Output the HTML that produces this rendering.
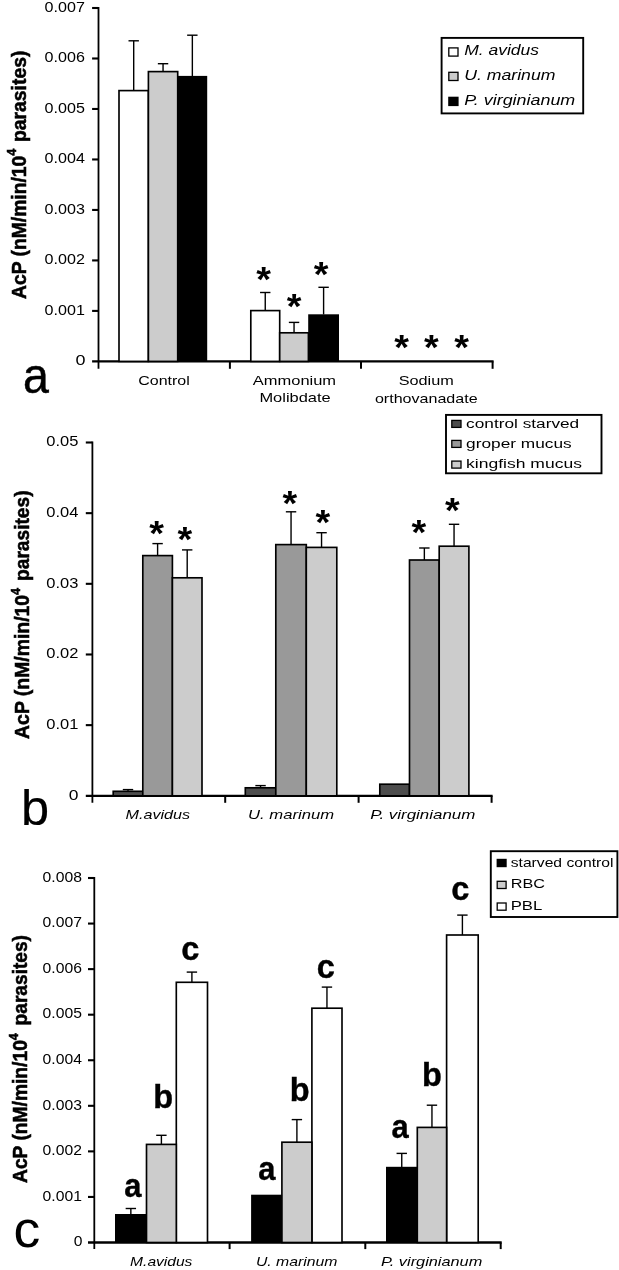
<!DOCTYPE html>
<html><head><meta charset="utf-8"><title>AcP activity</title>
<style>
html,body{margin:0;padding:0;background:#fff;}
svg{display:block;will-change:transform;filter:grayscale(1) blur(0.4px);}
text{font-family:"Liberation Sans",sans-serif;fill:#000;}
</style></head>
<body>
<svg width="619" height="1270" viewBox="0 0 619 1270">
<rect x="0" y="0" width="619" height="1270" fill="#fff"/>
<line x1="98.50" y1="7.00" x2="98.50" y2="368.80" stroke="#000" stroke-width="1.8"/>
<line x1="92.10" y1="361.40" x2="493.60" y2="361.40" stroke="#000" stroke-width="2.3"/>
<line x1="92.10" y1="310.91" x2="98.50" y2="310.91" stroke="#000" stroke-width="2.1"/>
<line x1="92.10" y1="260.43" x2="98.50" y2="260.43" stroke="#000" stroke-width="2.1"/>
<line x1="92.10" y1="209.94" x2="98.50" y2="209.94" stroke="#000" stroke-width="2.1"/>
<line x1="92.10" y1="159.46" x2="98.50" y2="159.46" stroke="#000" stroke-width="2.1"/>
<line x1="92.10" y1="108.97" x2="98.50" y2="108.97" stroke="#000" stroke-width="2.1"/>
<line x1="92.10" y1="58.49" x2="98.50" y2="58.49" stroke="#000" stroke-width="2.1"/>
<line x1="92.10" y1="8.00" x2="98.50" y2="8.00" stroke="#000" stroke-width="2.1"/>
<line x1="229.90" y1="361.40" x2="229.90" y2="368.80" stroke="#000" stroke-width="2.0"/>
<line x1="361.00" y1="361.40" x2="361.00" y2="368.80" stroke="#000" stroke-width="2.0"/>
<line x1="492.60" y1="361.40" x2="492.60" y2="368.80" stroke="#000" stroke-width="2.0"/>
<text x="75.50" y="365.20" font-size="13.9" text-anchor="start" font-weight="normal" font-style="normal" textLength="10.00" lengthAdjust="spacingAndGlyphs">0</text>
<text x="44.60" y="314.71" font-size="13.9" text-anchor="start" font-weight="normal" font-style="normal" textLength="40.30" lengthAdjust="spacingAndGlyphs">0.001</text>
<text x="44.60" y="264.23" font-size="13.9" text-anchor="start" font-weight="normal" font-style="normal" textLength="40.30" lengthAdjust="spacingAndGlyphs">0.002</text>
<text x="44.60" y="213.74" font-size="13.9" text-anchor="start" font-weight="normal" font-style="normal" textLength="40.30" lengthAdjust="spacingAndGlyphs">0.003</text>
<text x="44.60" y="163.26" font-size="13.9" text-anchor="start" font-weight="normal" font-style="normal" textLength="40.30" lengthAdjust="spacingAndGlyphs">0.004</text>
<text x="44.60" y="112.77" font-size="13.9" text-anchor="start" font-weight="normal" font-style="normal" textLength="40.30" lengthAdjust="spacingAndGlyphs">0.005</text>
<text x="44.60" y="62.29" font-size="13.9" text-anchor="start" font-weight="normal" font-style="normal" textLength="40.30" lengthAdjust="spacingAndGlyphs">0.006</text>
<text x="44.60" y="11.80" font-size="13.9" text-anchor="start" font-weight="normal" font-style="normal" textLength="40.30" lengthAdjust="spacingAndGlyphs">0.007</text>
<g transform="translate(25.60,299.00) rotate(-90)" font-weight="bold" font-size="21" stroke="#000" stroke-width="0.55"><text x="0" y="0" textLength="150.30" lengthAdjust="spacingAndGlyphs">AcP (nM/min/10<tspan font-size="13.65" dy="-9.24">4</tspan></text><text x="157.00" y="0" textLength="91.40" lengthAdjust="spacingAndGlyphs">parasites)</text></g>
<line x1="133.70" y1="90.60" x2="133.70" y2="40.80" stroke="#000" stroke-width="1.4"/>
<line x1="128.50" y1="40.80" x2="138.90" y2="40.80" stroke="#000" stroke-width="1.4"/>
<line x1="163.05" y1="71.60" x2="163.05" y2="63.70" stroke="#000" stroke-width="1.4"/>
<line x1="157.85" y1="63.70" x2="168.25" y2="63.70" stroke="#000" stroke-width="1.4"/>
<line x1="192.35" y1="76.10" x2="192.35" y2="35.20" stroke="#000" stroke-width="1.4"/>
<line x1="187.15" y1="35.20" x2="197.55" y2="35.20" stroke="#000" stroke-width="1.4"/>
<rect x="119.00" y="90.60" width="29.40" height="270.80" fill="#fff" stroke="#000" stroke-width="1.65"/>
<rect x="148.40" y="71.60" width="29.30" height="289.80" fill="#ccc" stroke="#000" stroke-width="1.65"/>
<rect x="177.50" y="75.90" width="29.70" height="285.70" fill="#000"/>
<line x1="265.25" y1="310.60" x2="265.25" y2="292.50" stroke="#000" stroke-width="1.4"/>
<line x1="260.05" y1="292.50" x2="270.45" y2="292.50" stroke="#000" stroke-width="1.4"/>
<line x1="294.05" y1="332.80" x2="294.05" y2="322.40" stroke="#000" stroke-width="1.4"/>
<line x1="288.85" y1="322.40" x2="299.25" y2="322.40" stroke="#000" stroke-width="1.4"/>
<line x1="323.60" y1="314.50" x2="323.60" y2="287.30" stroke="#000" stroke-width="1.4"/>
<line x1="318.40" y1="287.30" x2="328.80" y2="287.30" stroke="#000" stroke-width="1.4"/>
<rect x="250.80" y="310.60" width="28.90" height="50.80" fill="#fff" stroke="#000" stroke-width="1.65"/>
<rect x="279.70" y="332.80" width="28.70" height="28.60" fill="#ccc" stroke="#000" stroke-width="1.65"/>
<rect x="308.20" y="314.30" width="30.80" height="47.30" fill="#000"/>
<text transform="translate(263.50,275.50) scale(1.08,1)" x="0" y="15.89" font-size="35" font-weight="bold" text-anchor="middle">*</text>
<text transform="translate(294.00,302.20) scale(1.08,1)" x="0" y="15.89" font-size="35" font-weight="bold" text-anchor="middle">*</text>
<text transform="translate(321.20,269.80) scale(1.08,1)" x="0" y="15.89" font-size="35" font-weight="bold" text-anchor="middle">*</text>
<text transform="translate(401.70,343.30) scale(1.08,1)" x="0" y="15.89" font-size="35" font-weight="bold" text-anchor="middle">*</text>
<text transform="translate(431.40,343.30) scale(1.08,1)" x="0" y="15.89" font-size="35" font-weight="bold" text-anchor="middle">*</text>
<text transform="translate(461.70,343.30) scale(1.08,1)" x="0" y="15.89" font-size="35" font-weight="bold" text-anchor="middle">*</text>
<text x="138.20" y="385.40" font-size="13.6" text-anchor="start" font-weight="normal" font-style="normal" textLength="51.60" lengthAdjust="spacingAndGlyphs">Control</text>
<text x="252.80" y="385.40" font-size="13.6" text-anchor="start" font-weight="normal" font-style="normal" textLength="83.30" lengthAdjust="spacingAndGlyphs">Ammonium</text>
<text x="259.40" y="402.20" font-size="13.6" text-anchor="start" font-weight="normal" font-style="normal" textLength="71.30" lengthAdjust="spacingAndGlyphs">Molibdate</text>
<text x="398.70" y="385.40" font-size="13.6" text-anchor="start" font-weight="normal" font-style="normal" textLength="55.10" lengthAdjust="spacingAndGlyphs">Sodium</text>
<text x="374.90" y="403.00" font-size="13.6" text-anchor="start" font-weight="normal" font-style="normal" textLength="102.70" lengthAdjust="spacingAndGlyphs">orthovanadate</text>
<text transform="translate(22.90,393.40) scale(0.93,1)" x="0" y="0" font-size="50" stroke="#000" stroke-width="0.5">a</text>
<rect x="441.60" y="37.90" width="141.60" height="75.50" fill="none" stroke="#000" stroke-width="1.9"/>
<rect x="448.80" y="47.90" width="9.20" height="8.20" fill="#fff" stroke="#000" stroke-width="1.3"/>
<text x="464.20" y="55.30" font-size="14.3" text-anchor="start" font-weight="normal" font-style="italic" textLength="74.90" lengthAdjust="spacingAndGlyphs">M. avidus</text>
<rect x="448.80" y="72.30" width="9.20" height="8.20" fill="#ccc" stroke="#000" stroke-width="1.3"/>
<text x="464.20" y="79.90" font-size="14.3" text-anchor="start" font-weight="normal" font-style="italic" textLength="91.30" lengthAdjust="spacingAndGlyphs">U. marinum</text>
<rect x="448.20" y="96.70" width="10.40" height="9.40" fill="#000"/>
<text x="464.20" y="104.70" font-size="14.3" text-anchor="start" font-weight="normal" font-style="italic" textLength="111.10" lengthAdjust="spacingAndGlyphs">P. virginianum</text>
<line x1="92.40" y1="441.50" x2="92.40" y2="802.80" stroke="#000" stroke-width="1.8"/>
<line x1="85.80" y1="795.80" x2="492.60" y2="795.80" stroke="#000" stroke-width="2.3"/>
<line x1="85.80" y1="725.14" x2="92.40" y2="725.14" stroke="#000" stroke-width="2.1"/>
<line x1="85.80" y1="654.48" x2="92.40" y2="654.48" stroke="#000" stroke-width="2.1"/>
<line x1="85.80" y1="583.82" x2="92.40" y2="583.82" stroke="#000" stroke-width="2.1"/>
<line x1="85.80" y1="513.16" x2="92.40" y2="513.16" stroke="#000" stroke-width="2.1"/>
<line x1="85.80" y1="442.50" x2="92.40" y2="442.50" stroke="#000" stroke-width="2.1"/>
<line x1="225.20" y1="795.80" x2="225.20" y2="802.80" stroke="#000" stroke-width="2.0"/>
<line x1="358.60" y1="795.80" x2="358.60" y2="802.80" stroke="#000" stroke-width="2.0"/>
<line x1="491.60" y1="795.80" x2="491.60" y2="802.80" stroke="#000" stroke-width="2.0"/>
<text x="68.70" y="799.60" font-size="13.9" text-anchor="start" font-weight="normal" font-style="normal" textLength="9.70" lengthAdjust="spacingAndGlyphs">0</text>
<text x="46.30" y="728.94" font-size="13.9" text-anchor="start" font-weight="normal" font-style="normal" textLength="32.10" lengthAdjust="spacingAndGlyphs">0.01</text>
<text x="46.30" y="658.28" font-size="13.9" text-anchor="start" font-weight="normal" font-style="normal" textLength="32.10" lengthAdjust="spacingAndGlyphs">0.02</text>
<text x="46.30" y="587.62" font-size="13.9" text-anchor="start" font-weight="normal" font-style="normal" textLength="32.10" lengthAdjust="spacingAndGlyphs">0.03</text>
<text x="46.30" y="516.96" font-size="13.9" text-anchor="start" font-weight="normal" font-style="normal" textLength="32.10" lengthAdjust="spacingAndGlyphs">0.04</text>
<text x="46.30" y="446.30" font-size="13.9" text-anchor="start" font-weight="normal" font-style="normal" textLength="32.10" lengthAdjust="spacingAndGlyphs">0.05</text>
<g transform="translate(29.20,738.90) rotate(-90)" font-weight="bold" font-size="21" stroke="#000" stroke-width="0.55"><text x="0" y="0" textLength="151.00" lengthAdjust="spacingAndGlyphs">AcP (nM/min/10<tspan font-size="13.65" dy="-9.24">4</tspan></text><text x="158.00" y="0" textLength="90.40" lengthAdjust="spacingAndGlyphs">parasites)</text></g>
<line x1="128.00" y1="791.30" x2="128.00" y2="789.60" stroke="#000" stroke-width="1.4"/>
<line x1="122.80" y1="789.60" x2="133.20" y2="789.60" stroke="#000" stroke-width="1.4"/>
<rect x="113.20" y="791.30" width="29.60" height="4.50" fill="#4d4d4d" stroke="#000" stroke-width="1.65"/>
<line x1="157.60" y1="555.60" x2="157.60" y2="543.60" stroke="#000" stroke-width="1.4"/>
<line x1="152.40" y1="543.60" x2="162.80" y2="543.60" stroke="#000" stroke-width="1.4"/>
<rect x="142.80" y="555.60" width="29.60" height="240.20" fill="#999" stroke="#000" stroke-width="1.65"/>
<line x1="187.20" y1="577.80" x2="187.20" y2="549.90" stroke="#000" stroke-width="1.4"/>
<line x1="182.00" y1="549.90" x2="192.40" y2="549.90" stroke="#000" stroke-width="1.4"/>
<rect x="172.40" y="577.80" width="29.60" height="218.00" fill="#ccc" stroke="#000" stroke-width="1.65"/>
<line x1="260.55" y1="787.80" x2="260.55" y2="785.60" stroke="#000" stroke-width="1.4"/>
<line x1="255.35" y1="785.60" x2="265.75" y2="785.60" stroke="#000" stroke-width="1.4"/>
<rect x="245.30" y="787.80" width="30.50" height="8.00" fill="#4d4d4d" stroke="#000" stroke-width="1.65"/>
<line x1="291.05" y1="544.60" x2="291.05" y2="511.80" stroke="#000" stroke-width="1.4"/>
<line x1="285.85" y1="511.80" x2="296.25" y2="511.80" stroke="#000" stroke-width="1.4"/>
<rect x="275.80" y="544.60" width="30.50" height="251.20" fill="#999" stroke="#000" stroke-width="1.65"/>
<line x1="321.55" y1="547.40" x2="321.55" y2="532.70" stroke="#000" stroke-width="1.4"/>
<line x1="316.35" y1="532.70" x2="326.75" y2="532.70" stroke="#000" stroke-width="1.4"/>
<rect x="306.30" y="547.40" width="30.50" height="248.40" fill="#ccc" stroke="#000" stroke-width="1.65"/>
<rect x="379.80" y="784.20" width="29.70" height="11.60" fill="#4d4d4d" stroke="#000" stroke-width="1.65"/>
<line x1="424.35" y1="560.00" x2="424.35" y2="548.00" stroke="#000" stroke-width="1.4"/>
<line x1="419.15" y1="548.00" x2="429.55" y2="548.00" stroke="#000" stroke-width="1.4"/>
<rect x="409.50" y="560.00" width="29.70" height="235.80" fill="#999" stroke="#000" stroke-width="1.65"/>
<line x1="454.05" y1="546.20" x2="454.05" y2="524.30" stroke="#000" stroke-width="1.4"/>
<line x1="448.85" y1="524.30" x2="459.25" y2="524.30" stroke="#000" stroke-width="1.4"/>
<rect x="439.20" y="546.20" width="29.70" height="249.60" fill="#ccc" stroke="#000" stroke-width="1.65"/>
<text transform="translate(156.50,528.80) scale(1.08,1)" x="0" y="15.89" font-size="35" font-weight="bold" text-anchor="middle">*</text>
<text transform="translate(184.80,535.60) scale(1.08,1)" x="0" y="15.89" font-size="35" font-weight="bold" text-anchor="middle">*</text>
<text transform="translate(289.90,499.20) scale(1.08,1)" x="0" y="15.89" font-size="35" font-weight="bold" text-anchor="middle">*</text>
<text transform="translate(322.90,518.40) scale(1.08,1)" x="0" y="15.89" font-size="35" font-weight="bold" text-anchor="middle">*</text>
<text transform="translate(418.80,528.50) scale(1.08,1)" x="0" y="15.89" font-size="35" font-weight="bold" text-anchor="middle">*</text>
<text transform="translate(452.30,505.90) scale(1.08,1)" x="0" y="15.89" font-size="35" font-weight="bold" text-anchor="middle">*</text>
<text x="125.50" y="818.70" font-size="12.2" text-anchor="start" font-weight="normal" font-style="italic" textLength="64.60" lengthAdjust="spacingAndGlyphs">M.avidus</text>
<text x="248.10" y="818.70" font-size="12.2" text-anchor="start" font-weight="normal" font-style="italic" textLength="85.90" lengthAdjust="spacingAndGlyphs">U. marinum</text>
<text x="370.30" y="818.70" font-size="12.2" text-anchor="start" font-weight="normal" font-style="italic" textLength="105.10" lengthAdjust="spacingAndGlyphs">P. virginianum</text>
<text transform="translate(20.90,824.60) scale(1.0,1)" x="0" y="0" font-size="50.5" stroke="#000" stroke-width="0.2">b</text>
<rect x="446.00" y="414.90" width="155.50" height="58.40" fill="none" stroke="#000" stroke-width="1.9"/>
<rect x="451.80" y="420.40" width="9.20" height="7.00" fill="#4d4d4d" stroke="#000" stroke-width="1.3"/>
<text x="466.10" y="428.20" font-size="13.7" text-anchor="start" font-weight="normal" font-style="normal" textLength="113.10" lengthAdjust="spacingAndGlyphs">control starved</text>
<rect x="451.80" y="440.40" width="9.20" height="7.00" fill="#999" stroke="#000" stroke-width="1.3"/>
<text x="466.10" y="447.90" font-size="13.7" text-anchor="start" font-weight="normal" font-style="normal" textLength="105.60" lengthAdjust="spacingAndGlyphs">groper mucus</text>
<rect x="451.80" y="461.10" width="9.20" height="7.00" fill="#ccc" stroke="#000" stroke-width="1.3"/>
<text x="466.10" y="468.00" font-size="13.7" text-anchor="start" font-weight="normal" font-style="normal" textLength="115.80" lengthAdjust="spacingAndGlyphs">kingfish mucus</text>
<line x1="94.30" y1="877.00" x2="94.30" y2="1249.10" stroke="#000" stroke-width="1.8"/>
<line x1="88.00" y1="1242.50" x2="501.70" y2="1242.50" stroke="#000" stroke-width="2.3"/>
<line x1="88.00" y1="1196.94" x2="94.30" y2="1196.94" stroke="#000" stroke-width="2.1"/>
<line x1="88.00" y1="1151.38" x2="94.30" y2="1151.38" stroke="#000" stroke-width="2.1"/>
<line x1="88.00" y1="1105.81" x2="94.30" y2="1105.81" stroke="#000" stroke-width="2.1"/>
<line x1="88.00" y1="1060.25" x2="94.30" y2="1060.25" stroke="#000" stroke-width="2.1"/>
<line x1="88.00" y1="1014.69" x2="94.30" y2="1014.69" stroke="#000" stroke-width="2.1"/>
<line x1="88.00" y1="969.12" x2="94.30" y2="969.12" stroke="#000" stroke-width="2.1"/>
<line x1="88.00" y1="923.56" x2="94.30" y2="923.56" stroke="#000" stroke-width="2.1"/>
<line x1="88.00" y1="878.00" x2="94.30" y2="878.00" stroke="#000" stroke-width="2.1"/>
<line x1="229.60" y1="1242.50" x2="229.60" y2="1249.10" stroke="#000" stroke-width="2.0"/>
<line x1="365.30" y1="1242.50" x2="365.30" y2="1249.10" stroke="#000" stroke-width="2.0"/>
<line x1="500.70" y1="1242.50" x2="500.70" y2="1249.10" stroke="#000" stroke-width="2.0"/>
<text x="73.70" y="1246.30" font-size="13.9" text-anchor="start" font-weight="normal" font-style="normal" textLength="8.70" lengthAdjust="spacingAndGlyphs">0</text>
<text x="42.60" y="1200.74" font-size="13.9" text-anchor="start" font-weight="normal" font-style="normal" textLength="39.30" lengthAdjust="spacingAndGlyphs">0.001</text>
<text x="42.60" y="1155.17" font-size="13.9" text-anchor="start" font-weight="normal" font-style="normal" textLength="39.30" lengthAdjust="spacingAndGlyphs">0.002</text>
<text x="42.60" y="1109.61" font-size="13.9" text-anchor="start" font-weight="normal" font-style="normal" textLength="39.30" lengthAdjust="spacingAndGlyphs">0.003</text>
<text x="42.60" y="1064.05" font-size="13.9" text-anchor="start" font-weight="normal" font-style="normal" textLength="39.30" lengthAdjust="spacingAndGlyphs">0.004</text>
<text x="42.60" y="1018.49" font-size="13.9" text-anchor="start" font-weight="normal" font-style="normal" textLength="39.30" lengthAdjust="spacingAndGlyphs">0.005</text>
<text x="42.60" y="972.92" font-size="13.9" text-anchor="start" font-weight="normal" font-style="normal" textLength="39.30" lengthAdjust="spacingAndGlyphs">0.006</text>
<text x="42.60" y="927.36" font-size="13.9" text-anchor="start" font-weight="normal" font-style="normal" textLength="39.30" lengthAdjust="spacingAndGlyphs">0.007</text>
<text x="42.60" y="881.80" font-size="13.9" text-anchor="start" font-weight="normal" font-style="normal" textLength="39.30" lengthAdjust="spacingAndGlyphs">0.008</text>
<g transform="translate(27.10,1183.00) rotate(-90)" font-weight="bold" font-size="21" stroke="#000" stroke-width="0.55"><text x="0" y="0" textLength="149.80" lengthAdjust="spacingAndGlyphs">AcP (nM/min/10<tspan font-size="13.65" dy="-9.24">4</tspan></text><text x="157.60" y="0" textLength="90.40" lengthAdjust="spacingAndGlyphs">parasites)</text></g>
<line x1="130.85" y1="1214.20" x2="130.85" y2="1208.50" stroke="#000" stroke-width="1.4"/>
<line x1="125.65" y1="1208.50" x2="136.05" y2="1208.50" stroke="#000" stroke-width="1.4"/>
<line x1="161.40" y1="1144.40" x2="161.40" y2="1135.30" stroke="#000" stroke-width="1.4"/>
<line x1="156.20" y1="1135.30" x2="166.60" y2="1135.30" stroke="#000" stroke-width="1.4"/>
<line x1="191.90" y1="982.30" x2="191.90" y2="972.10" stroke="#000" stroke-width="1.4"/>
<line x1="186.70" y1="972.10" x2="197.10" y2="972.10" stroke="#000" stroke-width="1.4"/>
<rect x="176.30" y="982.30" width="31.20" height="260.20" fill="#fff" stroke="#000" stroke-width="1.65"/>
<rect x="146.50" y="1144.40" width="29.80" height="98.10" fill="#ccc" stroke="#000" stroke-width="1.65"/>
<rect x="115.00" y="1214.00" width="31.70" height="28.70" fill="#000"/>
<line x1="296.90" y1="1142.20" x2="296.90" y2="1119.60" stroke="#000" stroke-width="1.4"/>
<line x1="291.70" y1="1119.60" x2="302.10" y2="1119.60" stroke="#000" stroke-width="1.4"/>
<line x1="326.95" y1="1008.20" x2="326.95" y2="987.10" stroke="#000" stroke-width="1.4"/>
<line x1="321.75" y1="987.10" x2="332.15" y2="987.10" stroke="#000" stroke-width="1.4"/>
<rect x="311.90" y="1008.20" width="30.10" height="234.30" fill="#fff" stroke="#000" stroke-width="1.65"/>
<rect x="281.90" y="1142.20" width="30.00" height="100.30" fill="#ccc" stroke="#000" stroke-width="1.65"/>
<rect x="251.10" y="1194.70" width="31.00" height="48.00" fill="#000"/>
<line x1="401.75" y1="1167.00" x2="401.75" y2="1153.40" stroke="#000" stroke-width="1.4"/>
<line x1="396.55" y1="1153.40" x2="406.95" y2="1153.40" stroke="#000" stroke-width="1.4"/>
<line x1="431.95" y1="1127.40" x2="431.95" y2="1105.20" stroke="#000" stroke-width="1.4"/>
<line x1="426.75" y1="1105.20" x2="437.15" y2="1105.20" stroke="#000" stroke-width="1.4"/>
<line x1="462.40" y1="935.00" x2="462.40" y2="915.10" stroke="#000" stroke-width="1.4"/>
<line x1="457.20" y1="915.10" x2="467.60" y2="915.10" stroke="#000" stroke-width="1.4"/>
<rect x="446.60" y="935.00" width="31.60" height="307.50" fill="#fff" stroke="#000" stroke-width="1.65"/>
<rect x="417.30" y="1127.40" width="29.30" height="115.10" fill="#ccc" stroke="#000" stroke-width="1.65"/>
<rect x="386.00" y="1166.80" width="31.50" height="75.90" fill="#000"/>
<text transform="translate(132.90,1197.30) scale(0.95,1)" x="0" y="0" font-size="32.5" font-weight="bold" text-anchor="middle" stroke="#000" stroke-width="0.4">a</text>
<text transform="translate(163.10,1108.20) scale(1.0,1)" x="0" y="0" font-size="32.5" font-weight="bold" text-anchor="middle" stroke="#000" stroke-width="0.4">b</text>
<text transform="translate(190.20,959.50) scale(1.0,1)" x="0" y="0" font-size="32.5" font-weight="bold" text-anchor="middle" stroke="#000" stroke-width="0.4">c</text>
<text transform="translate(266.80,1180.30) scale(0.95,1)" x="0" y="0" font-size="32.5" font-weight="bold" text-anchor="middle" stroke="#000" stroke-width="0.4">a</text>
<text transform="translate(299.60,1100.50) scale(1.0,1)" x="0" y="0" font-size="32.5" font-weight="bold" text-anchor="middle" stroke="#000" stroke-width="0.4">b</text>
<text transform="translate(325.80,978.10) scale(1.0,1)" x="0" y="0" font-size="32.5" font-weight="bold" text-anchor="middle" stroke="#000" stroke-width="0.4">c</text>
<text transform="translate(400.00,1137.60) scale(0.95,1)" x="0" y="0" font-size="32.5" font-weight="bold" text-anchor="middle" stroke="#000" stroke-width="0.4">a</text>
<text transform="translate(431.80,1086.30) scale(1.0,1)" x="0" y="0" font-size="32.5" font-weight="bold" text-anchor="middle" stroke="#000" stroke-width="0.4">b</text>
<text transform="translate(460.20,900.00) scale(1.0,1)" x="0" y="0" font-size="32.5" font-weight="bold" text-anchor="middle" stroke="#000" stroke-width="0.4">c</text>
<text x="130.10" y="1265.60" font-size="12.2" text-anchor="start" font-weight="normal" font-style="italic" textLength="62.30" lengthAdjust="spacingAndGlyphs">M.avidus</text>
<text x="255.90" y="1265.60" font-size="12.2" text-anchor="start" font-weight="normal" font-style="italic" textLength="81.60" lengthAdjust="spacingAndGlyphs">U. marinum</text>
<text x="381.00" y="1265.60" font-size="12.2" text-anchor="start" font-weight="normal" font-style="italic" textLength="101.30" lengthAdjust="spacingAndGlyphs">P. virginianum</text>
<text transform="translate(13.60,1247.40) scale(1.03,1)" x="0" y="0" font-size="52" stroke="#000" stroke-width="0.0">c</text>
<rect x="490.80" y="851.20" width="126.60" height="65.80" fill="none" stroke="#000" stroke-width="1.9"/>
<rect x="496.60" y="858.80" width="10.10" height="8.40" fill="#000"/>
<text x="510.70" y="866.90" font-size="13.2" text-anchor="start" font-weight="normal" font-style="normal" textLength="102.80" lengthAdjust="spacingAndGlyphs">starved control</text>
<rect x="497.20" y="881.30" width="8.90" height="7.20" fill="#ccc" stroke="#000" stroke-width="1.3"/>
<text x="510.70" y="888.40" font-size="13.2" text-anchor="start" font-weight="normal" font-style="normal" textLength="34.30" lengthAdjust="spacingAndGlyphs">RBC</text>
<rect x="497.20" y="903.00" width="8.90" height="7.20" fill="#fff" stroke="#000" stroke-width="1.3"/>
<text x="510.70" y="910.10" font-size="13.2" text-anchor="start" font-weight="normal" font-style="normal" textLength="31.60" lengthAdjust="spacingAndGlyphs">PBL</text>
</svg>
</body></html>
